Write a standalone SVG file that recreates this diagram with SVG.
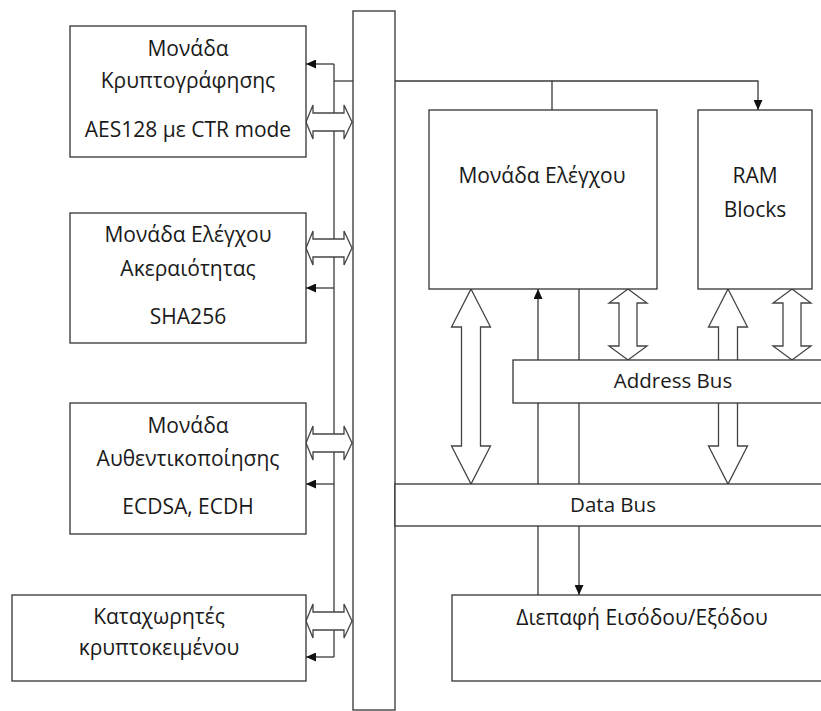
<svg xmlns="http://www.w3.org/2000/svg" width="821" height="711" viewBox="0 0 821 711">
<style>
.box{fill:#fff;stroke:#333;stroke-width:1.3}
.ln{fill:none;stroke:#3a3a3a;stroke-width:1.3}
.blk{fill:#fff;stroke:#444;stroke-width:1.3;stroke-linejoin:miter}
text{font-family:"Open Sans","Noto Sans","Liberation Sans",sans-serif;font-size:21px;fill:#1a1a1a;text-anchor:middle}
text.lat{font-size:20.5px}
</style>
<defs>
<marker id="ah" markerUnits="userSpaceOnUse" markerWidth="10" markerHeight="9" refX="10" refY="4.5" orient="auto">
<path d="M0,0 L10,4.5 L0,9 Z" fill="#111"/>
</marker>
</defs>
<rect width="821" height="711" fill="#fff"/>
<g id="connectors">
<line class="ln" x1="334" y1="64" x2="334" y2="657"/>
<line class="ln" x1="334" y1="64" x2="306" y2="64" marker-end="url(#ah)"/>
<line class="ln" x1="334" y1="288" x2="306" y2="288" marker-end="url(#ah)"/>
<line class="ln" x1="334" y1="484" x2="306" y2="484" marker-end="url(#ah)"/>
<line class="ln" x1="334" y1="657" x2="306" y2="657" marker-end="url(#ah)"/>
<line class="ln" x1="334" y1="81" x2="353" y2="81"/>
<polyline class="ln" points="395,81 758,81 758,110" marker-end="url(#ah)"/>
<line class="ln" x1="552" y1="81" x2="552" y2="110"/>
<line class="ln" x1="538" y1="595" x2="538" y2="289" marker-end="url(#ah)"/>
<line class="ln" x1="579" y1="289" x2="579" y2="595" marker-end="url(#ah)"/>
<path class="blk" d="M306,122 L313,105 L313,113 L344,113 L344,105 L352,122 L344,139 L344,131 L313,131 L313,139 Z"/>
<path class="blk" d="M306,248 L313,231 L313,239 L344,239 L344,231 L352,248 L344,265 L344,257 L313,257 L313,265 Z"/>
<path class="blk" d="M306,443 L313,426 L313,434 L344,434 L344,426 L352,443 L344,460 L344,452 L313,452 L313,460 Z"/>
<path class="blk" d="M306,621 L313,604 L313,612 L344,612 L344,604 L352,621 L344,638 L344,630 L313,630 L313,638 Z"/>
<path class="blk" d="M471,289 L490.5,327 L480.5,327 L480.5,446 L490.5,446 L471,484 L451.5,446 L461.5,446 L461.5,327 L451.5,327 Z"/>
<path class="blk" d="M628,289 L647,303 L637,303 L637,346 L647,346 L628,360 L609,346 L619,346 L619,303 L609,303 Z"/>
<path class="blk" d="M728,289 L747.5,327 L737.5,327 L737.5,446 L747.5,446 L728,484 L708.5,446 L718.5,446 L718.5,327 L708.5,327 Z"/>
<path class="blk" d="M792,289 L811,303 L801,303 L801,346 L811,346 L792,360 L773,346 L783,346 L783,303 L773,303 Z"/>
</g>
<g id="system-bus">
<rect class="box" x="353" y="11" width="42" height="699"/>
</g>
<g id="encryption-unit">
<rect class="box" x="70" y="26" width="236" height="131"/>
<text x="188" y="56">Μονάδα</text>
<text x="188" y="88">Κρυπτογράφησης</text>
<text x="188" y="137">AES128 με CTR mode</text>
</g>
<g id="integrity-unit">
<rect class="box" x="70" y="213" width="236" height="130"/>
<text x="188" y="242">Μονάδα Ελέγχου</text>
<text x="188" y="276">Ακεραιότητας</text>
<text x="188" y="324">SHA256</text>
</g>
<g id="authentication-unit">
<rect class="box" x="70" y="403" width="236" height="131"/>
<text x="188" y="433">Μονάδα</text>
<text x="188" y="466">Αυθεντικοποίησης</text>
<text x="188" y="514">ECDSA, ECDH</text>
</g>
<g id="ciphertext-registers">
<rect class="box" x="12" y="595" width="294" height="86"/>
<text x="159" y="624">Καταχωρητές</text>
<text x="159" y="655">κρυπτοκειμένου</text>
</g>
<g id="control-unit">
<rect class="box" x="429" y="110" width="228" height="179"/>
<text x="542" y="183">Μονάδα Ελέγχου</text>
</g>
<g id="ram-blocks">
<rect class="box" x="698" y="110" width="114" height="179"/>
<text x="755" y="183">RAM</text>
<text x="755" y="217">Blocks</text>
</g>
<g id="address-bus">
<rect class="box" x="513" y="360" width="320" height="43"/>
<text class="lat" x="673" y="388">Address Bus</text>
</g>
<g id="data-bus">
<rect class="box" x="395" y="484" width="440" height="42"/>
<text class="lat" x="613" y="512">Data Bus</text>
</g>
<g id="io-interface">
<rect class="box" x="452" y="595" width="380" height="86"/>
<text x="642" y="625">Διεπαφή Εισόδου/Εξόδου</text>
</g>
</svg>
